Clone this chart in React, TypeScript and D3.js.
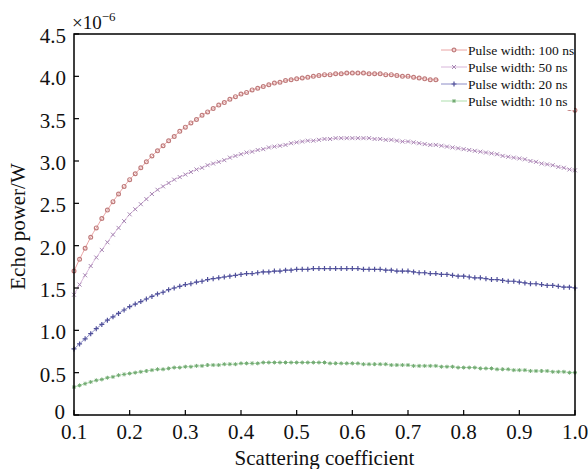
import React from "react";
import * as d3 from "d3";

const xValues: number[] = d3.range(10, 101).map((i) => i / 100);

const pulse100: number[] = [
  1.70, 1.84, 1.97, 2.10, 2.21, 2.32, 2.42, 2.52, 2.61, 2.70,
  2.78, 2.85, 2.92, 2.99, 3.06, 3.12, 3.18, 3.24, 3.29, 3.35,
  3.40, 3.45, 3.49, 3.54, 3.58, 3.62, 3.66, 3.69, 3.73, 3.76,
  3.79, 3.81, 3.84, 3.86, 3.88, 3.90, 3.92, 3.93, 3.95, 3.96,
  3.97, 3.98, 3.99, 4.00, 4.01, 4.02, 4.02, 4.03, 4.03, 4.04,
  4.04, 4.04, 4.04, 4.03, 4.03, 4.03, 4.02, 4.02, 4.01, 4.00,
  4.00, 3.99, 3.98, 3.97, 3.96, 3.96, 3.95, 3.94, 3.93, 3.92,
  3.91, 3.90, 3.88, 3.87, 3.86, 3.84, 3.83, 3.82, 3.80, 3.79,
  3.77, 3.75, 3.74, 3.72, 3.71, 3.69, 3.67, 3.66, 3.64, 3.62,
  3.60,
];

const pulse50: number[] = [
  1.42, 1.54, 1.65, 1.76, 1.86, 1.95, 2.04, 2.13, 2.21, 2.29,
  2.37, 2.43, 2.49, 2.55, 2.61, 2.66, 2.70, 2.74, 2.78, 2.81,
  2.84, 2.87, 2.90, 2.92, 2.95, 2.97, 2.99, 3.01, 3.04, 3.06,
  3.08, 3.10, 3.11, 3.13, 3.14, 3.16, 3.17, 3.18, 3.19, 3.21,
  3.22, 3.23, 3.24, 3.24, 3.25, 3.26, 3.26, 3.27, 3.27, 3.27,
  3.27, 3.27, 3.27, 3.27, 3.26, 3.26, 3.25, 3.25, 3.24, 3.23,
  3.23, 3.22, 3.21, 3.20, 3.19, 3.19, 3.18, 3.17, 3.16, 3.15,
  3.14, 3.13, 3.12, 3.11, 3.10, 3.09, 3.08, 3.06, 3.05, 3.04,
  3.03, 3.02, 3.00, 2.99, 2.97, 2.96, 2.95, 2.93, 2.92, 2.90,
  2.89,
];

const pulse20: number[] = [
  0.78, 0.84, 0.90, 0.96, 1.02, 1.07, 1.12, 1.16, 1.20, 1.24,
  1.28, 1.31, 1.34, 1.37, 1.40, 1.43, 1.45, 1.48, 1.50, 1.52,
  1.54, 1.55, 1.57, 1.58, 1.60, 1.61, 1.62, 1.63, 1.64, 1.65,
  1.66, 1.67, 1.67, 1.68, 1.69, 1.69, 1.70, 1.70, 1.71, 1.71,
  1.72, 1.72, 1.72, 1.73, 1.73, 1.73, 1.73, 1.73, 1.73, 1.73,
  1.73, 1.73, 1.72, 1.72, 1.72, 1.72, 1.71, 1.71, 1.70, 1.70,
  1.70, 1.69, 1.68, 1.68, 1.67, 1.67, 1.66, 1.66, 1.65, 1.64,
  1.64, 1.63, 1.62, 1.62, 1.61, 1.60, 1.60, 1.59, 1.58, 1.58,
  1.57, 1.56, 1.55, 1.55, 1.54, 1.53, 1.53, 1.52, 1.51, 1.51,
  1.50,
];

const pulse10: number[] = [
  0.33, 0.35, 0.37, 0.39, 0.41, 0.42, 0.44, 0.45, 0.47, 0.48,
  0.49, 0.50, 0.51, 0.52, 0.53, 0.54, 0.54, 0.55, 0.56, 0.56,
  0.57, 0.57, 0.58, 0.58, 0.59, 0.59, 0.59, 0.60, 0.60, 0.60,
  0.61, 0.61, 0.61, 0.61, 0.62, 0.62, 0.62, 0.62, 0.62, 0.62,
  0.62, 0.62, 0.62, 0.62, 0.62, 0.62, 0.61, 0.61, 0.61, 0.61,
  0.61, 0.61, 0.60, 0.60, 0.60, 0.60, 0.60, 0.59, 0.59, 0.59,
  0.59, 0.58, 0.58, 0.58, 0.58, 0.58, 0.57, 0.57, 0.57, 0.56,
  0.56, 0.56, 0.56, 0.55, 0.55, 0.55, 0.54, 0.54, 0.54, 0.53,
  0.53, 0.53, 0.52, 0.52, 0.52, 0.52, 0.51, 0.51, 0.51, 0.50,
  0.50,
];

const seriesNames: string[] = [
  "Pulse width: 100 ns",
  "Pulse width: 50 ns",
  "Pulse width: 20 ns",
  "Pulse width: 10 ns",
];

const xTicks: number[] = [0.1, 0.2, 0.3, 0.4, 0.5, 0.6, 0.7, 0.8, 0.9, 1.0];
const yTicks: number[] = [0, 0.5, 1.0, 1.5, 2.0, 2.5, 3.0, 3.5, 4.0, 4.5];

const W = 588;
const H = 469;
const M = { left: 74, right: 575, top: 34, bottom: 415 };
const FONT = '"Liberation Serif", "Times New Roman", "DejaVu Serif", serif';

type Style = { line: string; mark: string; shape: "circle" | "x" | "plus" | "star" };
const styles: Style[] = [
  { line: "#eaa4a4", mark: "#c07c7c", shape: "circle" },
  { line: "#d8b6da", mark: "#a888b4", shape: "x" },
  { line: "#8c8cc6", mark: "#50509a", shape: "plus" },
  { line: "#addfad", mark: "#72aa72", shape: "star" },
];

function Marker({ x, y, s }: { x: number; y: number; s: Style }) {
  const r = 2;
  if (s.shape === "circle")
    return <circle cx={x} cy={y} r={1.9} fill="none" stroke={s.mark} strokeWidth={1.2} />;
  if (s.shape === "x")
    return (
      <path
        d={`M${x - r},${y - r}L${x + r},${y + r}M${x - r},${y + r}L${x + r},${y - r}`}
        stroke={s.mark}
        strokeWidth={1}
      />
    );
  if (s.shape === "plus")
    return (
      <path
        d={`M${x - r - 0.5},${y}L${x + r + 0.5},${y}M${x},${y - r - 0.5}L${x},${y + r + 0.5}`}
        stroke={s.mark}
        strokeWidth={1.2}
      />
    );
  return (
    <path
      d={`M${x - r},${y}L${x + r},${y}M${x},${y - r}L${x},${y + r}M${x - r * 0.7},${y - r * 0.7}L${x + r * 0.7},${y + r * 0.7}M${x - r * 0.7},${y + r * 0.7}L${x + r * 0.7},${y - r * 0.7}`}
      stroke={s.mark}
      strokeWidth={1}
    />
  );
}

const txt = { fontFamily: FONT };

export default function App() {
  const x = d3.scaleLinear().domain([0.1, 1.0]).range([M.left, M.right]);
  const y = d3.scaleLinear().domain([0, 4.5]).range([M.bottom, M.top]);
  const all = [pulse100, pulse50, pulse20, pulse10];
  const line = d3
    .line<number>()
    .x((_, i) => x(xValues[i]))
    .y((d) => y(d))
    .curve(d3.curveMonotoneX);

  const legX = 441;
  const legY0 = 50;
  const legDy = 17;

  return (
    <svg
      width={W}
      height={H}
      style={{ position: "absolute", left: 0, top: 0, background: "#fff" }}
    >
      <rect x={0} y={0} width={W} height={H} fill="#fff" />
      {all.map((vals, si) => (
        <g key={si}>
          <path d={line(vals) || ""} fill="none" stroke={styles[si].line} strokeWidth={1} />
          {vals.map((v, i) => (
            <Marker key={i} x={x(xValues[i])} y={y(v)} s={styles[si]} />
          ))}
        </g>
      ))}

      {/* legend */}
      <rect x={legX - 2} y={legY0 - 9} width={M.right - legX + 1} height={legDy * 4 + 1} fill="#fff" />
      {seriesNames.map((name, i) => {
        const ly = legY0 + i * legDy;
        return (
          <g key={name}>
            <line x1={legX} x2={legX + 26} y1={ly} y2={ly} stroke={styles[i].line} strokeWidth={1} />
            <Marker x={legX + 13} y={ly} s={styles[i]} />
            <text x={legX + 27} y={ly + 5} fontSize={13.5} fill="#111" style={txt}>
              {name}
            </text>
          </g>
        );
      })}

      {/* frame */}
      <rect
        x={M.left}
        y={M.top}
        width={M.right - M.left}
        height={M.bottom - M.top}
        fill="none"
        stroke="#000"
        strokeWidth={1.5}
      />
      {xTicks.map((t) => (
        <g key={"x" + t}>
          <line x1={x(t)} x2={x(t)} y1={M.bottom} y2={M.bottom - 5} stroke="#000" strokeWidth={1.2} />
          <text x={x(t)} y={M.bottom + 24} textAnchor="middle" fontSize={21} fill="#111" style={txt}>
            {t.toFixed(1)}
          </text>
        </g>
      ))}
      {yTicks.map((t) => (
        <g key={"y" + t}>
          <line x1={M.left} x2={M.left + 5} y1={y(t)} y2={y(t)} stroke="#000" strokeWidth={1.2} />
          <text
            x={M.left - (t === 0 ? 9 : 8)}
            y={y(t) + (t === 0 ? 4 : 9)}
            textAnchor="end"
            fontSize={21}
            fill="#111"
            style={txt}
          >
            {t === 0 ? "0" : t.toFixed(1)}
          </text>
        </g>
      ))}
      <text x={72} y={29} fontSize={19} fill="#111" style={txt}>
        ×10
        <tspan fontSize={13} dy={-8}>−6</tspan>
      </text>
      <text x={(M.left + M.right) / 2} y={465} textAnchor="middle" fontSize={21} fill="#111" style={txt}>
        Scattering coefficient
      </text>
      <text
        transform={`translate(25,${(M.top + M.bottom) / 2 + 2}) rotate(-90)`}
        textAnchor="middle"
        fontSize={21}
        fill="#111"
        style={txt}
      >
        Echo power/W
      </text>
    </svg>
  );
}
